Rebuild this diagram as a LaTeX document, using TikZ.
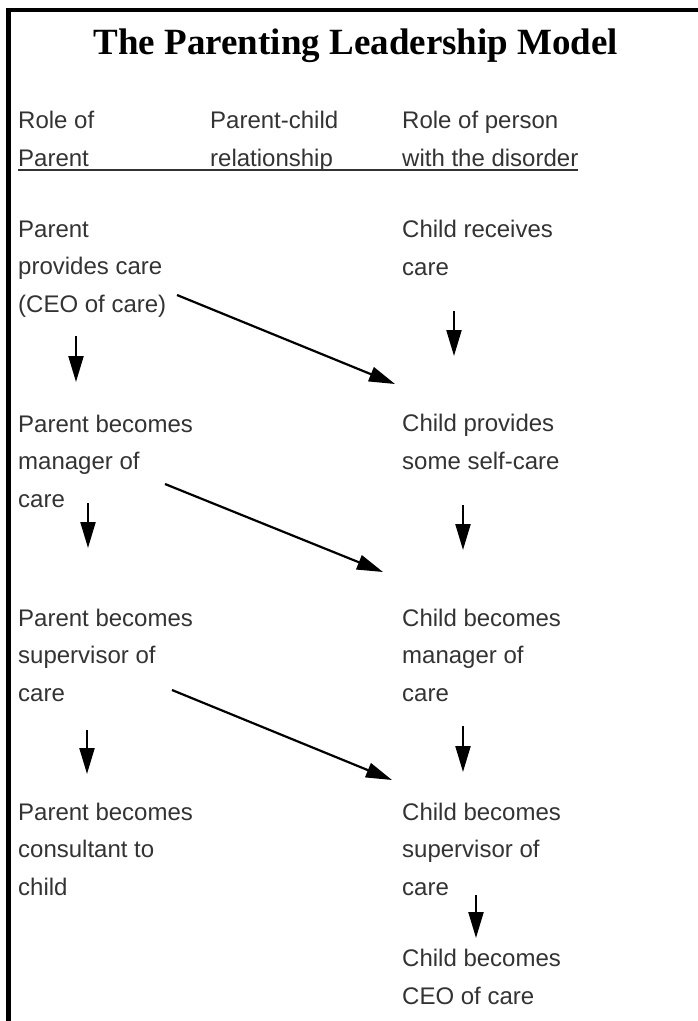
\documentclass[tikz,border=0pt]{standalone}
\usepackage{fontspec}
\setmainfont{Liberation Serif}
\setsansfont{Liberation Sans}
\usetikzlibrary{arrows.meta,calc}
\definecolor{txtgray}{RGB}{51,51,51}

\begin{document}
\begin{tikzpicture}[x=1pt, y=-1pt,
  blk/.style={anchor=base west, inner sep=0pt, align=left, text=txtgray, font=\sffamily\fontsize{24}{37.3}\selectfont},
  ttl/.style={anchor=base, inner sep=0pt, font=\bfseries\fontsize{37}{40}\selectfont},
  arr/.style={-{Triangle[length=26pt,width=15pt]}, line width=2.2pt},
  uline/.style={draw=txtgray, line width=2pt},
  frame/.style={line width=4.5pt}
]
\useasboundingbox (0,0) rectangle (697,1021);
\draw[frame] (8.5,1025) -- (8.5,10) -- (700,10);

\node[ttl] (title) at (356,54) {The Parenting Leadership Model};

% column heads (placed by their last line)
\node[blk] (h1) at (18,166) {Role of\\Parent};
\node[blk] (h2) at (210,166) {Parent-child\\relationship};
\node[blk] (h3) at (402,166) {Role of person\\with the disorder};
\draw[uline] ([yshift=-4pt]h1.base west) -- ([yshift=-4pt]h1.base west -| h3.east);

% parent side
\node[blk] (p1) at (18,312) {Parent\\provides care\\(CEO of care)};
\node[blk] (p2) at (18,507) {Parent becomes\\manager of\\care};
\node[blk] (p3) at (18,701) {Parent becomes\\supervisor of\\care};
\node[blk] (p4) at (18,895) {Parent becomes\\consultant to\\child};

% child side
\node[blk] (c1) at (402,275) {Child receives\\care};
\node[blk] (c2) at (402,469) {Child provides\\some self-care};
\node[blk] (c3) at (402,701) {Child becomes\\manager of\\care};
\node[blk] (c4) at (402,895) {Child becomes\\supervisor of\\care};
\node[blk] (c5) at (402,1004) {Child becomes\\CEO of care};

% steps down
\draw[arr] ([xshift=58pt,yshift=-24pt]p1.base west) -- ([xshift=58pt,yshift=125pt]p2.base west);
\draw[arr] ([xshift=70pt,yshift=4pt]p2.base west) -- ([xshift=70pt,yshift=153pt]p3.base west);
\draw[arr] ([xshift=69pt,yshift=-29pt]p3.base west) -- ([xshift=69pt,yshift=121pt]p4.base west);
\draw[arr] ([xshift=52pt,yshift=-36pt]c1.base west) -- ([xshift=52pt,yshift=113pt]c2.base west);
\draw[arr] ([xshift=61pt,yshift=-36pt]c2.base west) -- ([xshift=61pt,yshift=151pt]c3.base west);
\draw[arr] ([xshift=61pt,yshift=-25pt]c3.base west) -- ([xshift=61pt,yshift=123pt]c4.base west);
\draw[arr] ([xshift=74pt,yshift=0pt]c4.base west) -- ([xshift=74pt,yshift=66pt]c5.base west);

% hand-over
\draw[arr] ([xshift=159pt,yshift=17pt]p1.base west) -- ([xshift=-7pt,yshift=85pt]c2.base west);
\draw[arr] ([xshift=147pt,yshift=23pt]p2.base west) -- ([xshift=-19pt,yshift=129pt]c3.base west);
\draw[arr] ([xshift=154pt,yshift=11pt]p3.base west) -- ([xshift=-10pt,yshift=115pt]c4.base west);
\end{tikzpicture}
\end{document}
